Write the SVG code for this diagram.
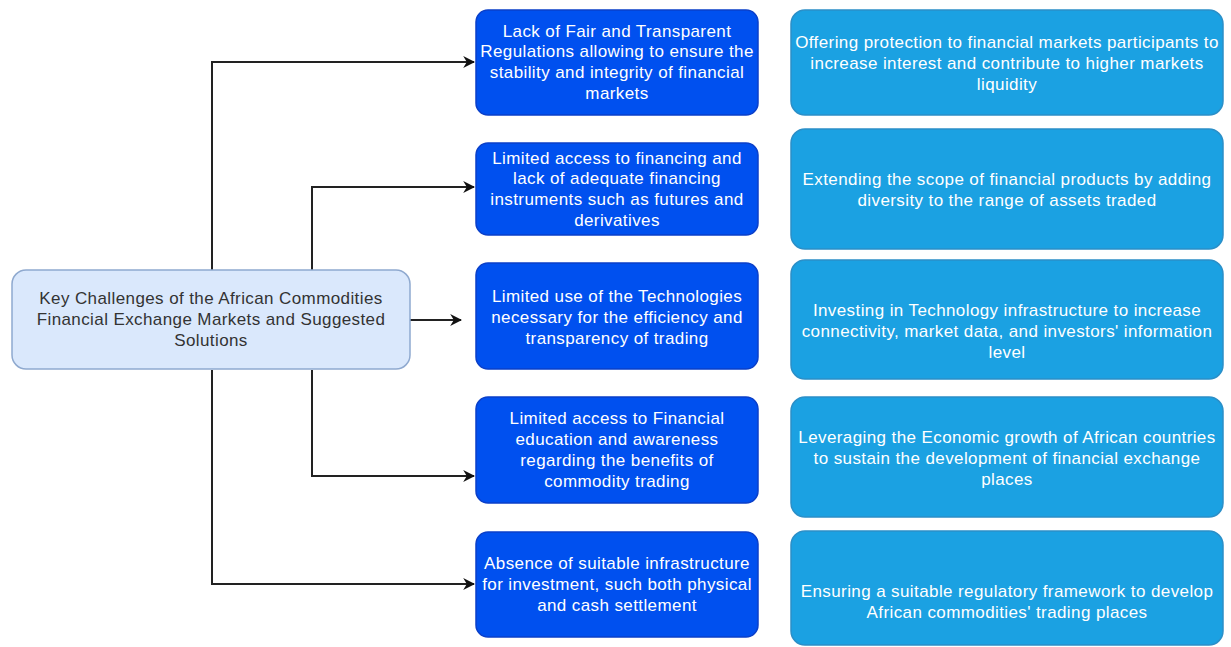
<svg xmlns="http://www.w3.org/2000/svg" width="1231" height="647" viewBox="0 0 1231 647">
<style>
.root{fill:#dae8fc;stroke:#8fa9cf;stroke-width:1.5}
.ch{fill:#0050ef;stroke:#0a3fc9;stroke-width:1.5}
.so{fill:#1ba1e2;stroke:#2b8fc8;stroke-width:1.5}
text{font-family:"Liberation Sans",Arial,sans-serif;font-size:17px;letter-spacing:0.4px;text-anchor:middle}
.w{fill:#ffffff}
.d{fill:#333333}
.c{fill:none;stroke:#222222;stroke-width:2}
</style>
<defs>
<marker id="ah2" viewBox="0 0 10 10" refX="9" refY="5" markerWidth="12" markerHeight="12" markerUnits="userSpaceOnUse" orient="auto">
<path d="M0,0 L10,5 L0,10 L3,5 Z" fill="#111111"/>
</marker>
</defs>
<g id="connectors">
<path class="c" d="M212,270 V62 H474" marker-end="url(#ah2)"/>
<path class="c" d="M312,270 V187 H474" marker-end="url(#ah2)"/>
<path class="c" d="M410,320 H461" stroke-width="1.5" marker-end="url(#ah2)"/>
<path class="c" d="M312,370 V476 H474" marker-end="url(#ah2)"/>
<path class="c" d="M212,370 V584 H474" marker-end="url(#ah2)"/>
</g>
<g id="root">
<rect class="root" x="12" y="270" width="398" height="99" rx="14"/>
<text class="d" x="211" y="304">Key Challenges of the African Commodities</text>
<text class="d" x="211" y="325">Financial Exchange Markets and Suggested</text>
<text class="d" x="211" y="346">Solutions</text>
</g>
<g id="challenge1">
<rect class="ch" x="476" y="10" width="282" height="105" rx="12"/>
<text class="w" x="617" y="37">Lack of Fair and Transparent</text>
<text class="w" x="617" y="57">Regulations allowing to ensure the</text>
<text class="w" x="617" y="78">stability and integrity of financial</text>
<text class="w" x="617" y="99">markets</text>
</g>
<g id="challenge2">
<rect class="ch" x="476" y="143" width="282" height="92" rx="12"/>
<text class="w" x="617" y="164">Limited access to financing and</text>
<text class="w" x="617" y="184">lack of adequate financing</text>
<text class="w" x="617" y="205">instruments such as futures and</text>
<text class="w" x="617" y="226">derivatives</text>
</g>
<g id="challenge3">
<rect class="ch" x="476" y="263" width="282" height="106" rx="12"/>
<text class="w" x="617" y="302">Limited use of the Technologies</text>
<text class="w" x="617" y="323">necessary for the efficiency and</text>
<text class="w" x="617" y="344">transparency of trading</text>
</g>
<g id="challenge4">
<rect class="ch" x="476" y="397" width="282" height="106" rx="12"/>
<text class="w" x="617" y="424">Limited access to Financial</text>
<text class="w" x="617" y="445">education and awareness</text>
<text class="w" x="617" y="466">regarding the benefits of</text>
<text class="w" x="617" y="487">commodity trading</text>
</g>
<g id="challenge5">
<rect class="ch" x="476" y="532" width="282" height="105" rx="12"/>
<text class="w" x="617" y="569">Absence of suitable infrastructure</text>
<text class="w" x="617" y="590">for investment, such both physical</text>
<text class="w" x="617" y="611">and cash settlement</text>
</g>
<g id="solution1">
<rect class="so" x="791" y="10" width="432" height="105" rx="14"/>
<text class="w" x="1007" y="48">Offering protection to financial markets participants to</text>
<text class="w" x="1007" y="69">increase interest and contribute to higher markets</text>
<text class="w" x="1007" y="90">liquidity</text>
</g>
<g id="solution2">
<rect class="so" x="791" y="129" width="432" height="120" rx="14"/>
<text class="w" x="1007" y="185">Extending the scope of financial products by adding</text>
<text class="w" x="1007" y="206">diversity to the range of assets traded</text>
</g>
<g id="solution3">
<rect class="so" x="791" y="260" width="432" height="119" rx="14"/>
<text class="w" x="1007" y="316">Investing in Technology infrastructure to increase</text>
<text class="w" x="1007" y="337">connectivity, market data, and investors' information</text>
<text class="w" x="1007" y="358">level</text>
</g>
<g id="solution4">
<rect class="so" x="791" y="397" width="432" height="120" rx="14"/>
<text class="w" x="1007" y="443">Leveraging the Economic growth of African countries</text>
<text class="w" x="1007" y="464">to sustain the development of financial exchange</text>
<text class="w" x="1007" y="485">places</text>
</g>
<g id="solution5">
<rect class="so" x="791" y="531" width="432" height="114" rx="14"/>
<text class="w" x="1007" y="597">Ensuring a suitable regulatory framework to develop</text>
<text class="w" x="1007" y="618">African commodities' trading places</text>
</g>
</svg>
